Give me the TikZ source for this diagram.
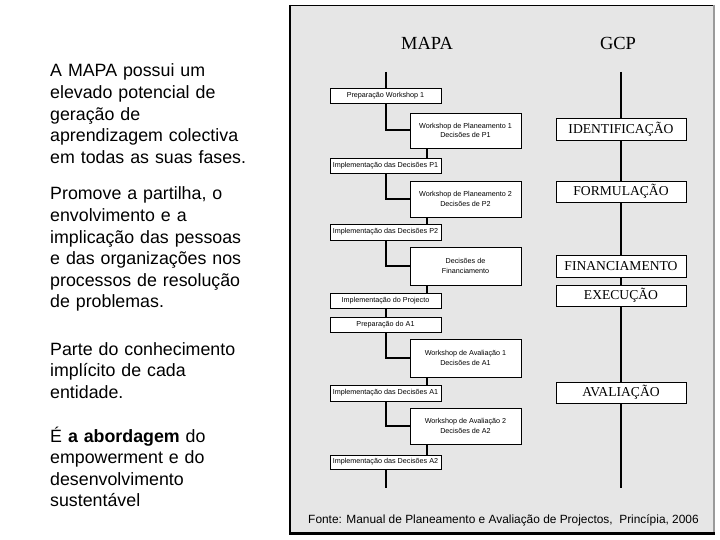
\documentclass[tikz,border=0pt]{standalone}
\usepackage{fontspec}
\setmainfont{Liberation Sans}
\newfontfamily\gcpserif{Liberation Serif}
\usetikzlibrary{shadows,calc}
\definecolor{panelgrey}{HTML}{E6E6E6}
\definecolor{edgegrey}{HTML}{9A9A9A}
\begin{document}
\begin{tikzpicture}[x=1pt,y=-1pt,
  mbox/.style={draw=black, line width=0.8pt, fill=white, minimum width=111pt, inner sep=0pt,
    font=\fontsize{7.2}{9.8}\selectfont, align=center,
    drop shadow={shadow xshift=1pt, shadow yshift=-1pt, fill=black!40, opacity=1}},
  gbox/.style={draw=black, line width=0.8pt, fill=white, minimum width=130pt, inner sep=0pt,
    font=\gcpserif\fontsize{13.6}{16}\selectfont,
    drop shadow={shadow xshift=1pt, shadow yshift=-1pt, fill=black!40, opacity=1}},
  conn/.style={line width=2pt, black},
  para/.style={anchor=base west, inner sep=0pt, text width=235pt, align=left,
    font=\fontsize{17.8}{21.6}\selectfont},
  title/.style={font=\gcpserif\fontsize{18.5}{20}\selectfont, inner sep=0pt}
]
\useasboundingbox (0,0) rectangle (720,540);
\fill[white] (0,0) rectangle (720,540);
% panel
\fill[panelgrey] (290,6) rectangle (713,533);
\draw[black, line width=1pt] (289,5.5) -- (713,5.5);
\draw[edgegrey, line width=2pt] (714,5) -- (714,533);
\draw[black, line width=2pt] (289.5,5) -- (289.5,534.5);
\draw[black, line width=2.5pt] (289,533.5) -- (715,533.5);

% left text
\node[para] (p1) at (50,77) {A MAPA possui um\\elevado potencial de\\geração de\\aprendizagem colectiva\\em todas as suas fases.};
\node[para] (p2) at (50,200) {Promove a partilha, o\\envolvimento e a\\implicação das pessoas\\e das organizações nos\\processos de resolução\\de problemas.};
\node[para] (p3) at (50,355) {Parte do conhecimento\\implícito de cada\\entidade.};
\node[para] (p4) at (50,442) {É \textbf{a abordagem} do\\empowerment e do\\desenvolvimento\\sustentável};

% titles
\node[title] (tmapa) at (427,43) {MAPA};
\node[title] (tgcp) at (618,43) {GCP};

% MAPA boxes
\node[mbox, minimum height=15pt] (b1) at (385.5,95.5) {Preparação Workshop 1};
\node[mbox, minimum height=35pt] (b2) at (465.5,130.5) {Workshop de Planeamento 1\\Decisões de P1};
\node[mbox, minimum height=15pt] (b3) at (385.5,166) {Implementação das Decisões P1};
\node[mbox, minimum height=36pt] (b4) at (465.5,199) {Workshop de Planeamento 2\\Decisões de P2};
\node[mbox, minimum height=16pt] (b5) at (385.5,232) {Implementação das Decisões P2};
\node[mbox, minimum height=38pt] (b6) at (465.5,266) {Decisões de\\Financiamento};
\node[mbox, minimum height=15pt] (b7) at (385.5,300.5) {Implementação do Projecto};
\node[mbox, minimum height=15pt] (b8) at (385.5,324.5) {Preparação do A1};
\node[mbox, minimum height=38pt] (b9) at (465.5,358) {Workshop de Avaliação 1\\Decisões de A1};
\node[mbox, minimum height=16pt] (b10) at (385.5,393) {Implementação das Decisões A1};
\node[mbox, minimum height=36pt] (b11) at (465.5,426) {Workshop de Avaliação 2\\Decisões de A2};
\node[mbox, minimum height=14pt] (b12) at (385.5,462) {Implementação das Decisões A2};

% GCP boxes
\node[gbox, minimum height=22pt] (g1) at (621,129) {IDENTIFICAÇÃO};
\node[gbox, minimum height=21pt] (g2) at (621,191.5) {FORMULAÇÃO};
\node[gbox, minimum height=22pt] (g3) at (621,266) {FINANCIAMENTO};
\node[gbox, minimum height=21pt] (g4) at (621,295.5) {EXECUÇÃO};
\node[gbox, minimum height=21pt] (g5) at (621,392.5) {AVALIAÇÃO};

\coordinate (mtop) at (385.5,72);
\coordinate (mbot) at (385.5,488);
\coordinate (gtop) at (621,72);
\coordinate (gbot) at (621,488);

% MAPA connectors
\draw[conn] (mtop) -- (b1.north);
\draw[conn] (b1.south) |- (b2.west);
\draw[conn] ([xshift=-39pt]b2.south) -- ([xshift=-39pt]b2.south |- b3.north);
\draw[conn] (b3.south) |- (b4.west);
\draw[conn] ([xshift=-39pt]b4.south) -- ([xshift=-39pt]b4.south |- b5.north);
\draw[conn] (b5.south) |- (b6.west);
\draw[conn] ([xshift=-39pt]b6.south) -- ([xshift=-39pt]b6.south |- b7.north);
\draw[conn] (b7.south) -- (b8.north);
\draw[conn] (b8.south) |- (b9.west);
\draw[conn] ([xshift=-39pt]b9.south) -- ([xshift=-39pt]b9.south |- b10.north);
\draw[conn] (b10.south) |- (b11.west);
\draw[conn] ([xshift=-39pt]b11.south) -- ([xshift=-39pt]b11.south |- b12.north);
\draw[conn] (b12.south) -- (mbot);

% GCP connectors
\draw[conn] (gtop) -- (g1.north);
\draw[conn] (g1.south) -- (g2.north);
\draw[conn] (g2.south) -- (g3.north);
\draw[conn] (g3.south) -- (g4.north);
\draw[conn] (g4.south) -- (g5.north);
\draw[conn] (g5.south) -- (gbot);

% source
\node[font=\fontsize{11.9}{13}\selectfont, anchor=base, inner sep=0pt] (src) at (503.5,523) {Fonte: Manual de Planeamento e Avaliação de Projectos,\ \ Princípia, 2006};
\end{tikzpicture}
\end{document}
